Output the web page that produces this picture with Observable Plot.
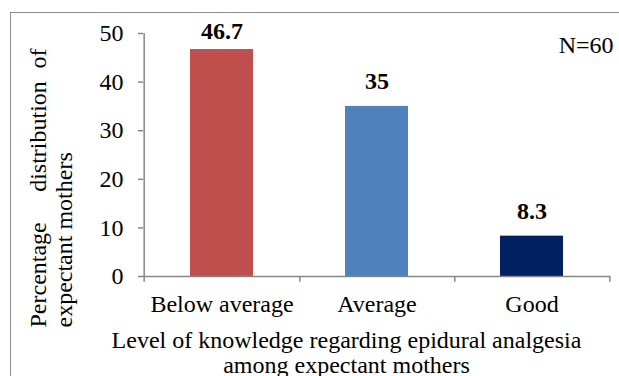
<!DOCTYPE html>
<html>
<head>
<meta charset="utf-8">
<script src="https://cdn.jsdelivr.net/npm/d3@7"></script>
<script src="https://cdn.jsdelivr.net/npm/@observablehq/plot@0.6"></script>
<style>
  html, body { margin: 0; padding: 0; background: #fff; overflow: hidden; }
  #wrap { position: relative; width: 619px; height: 376px; overflow: hidden; }
  #border { position: absolute; left: 10px; top: 12px; width: 700px; height: 500px; border: 1.5px solid #8c8c8c; box-sizing: border-box; }
  #chart { position: absolute; left: 0; top: 0; }
</style>
</head>
<body>
<div id="wrap"><div id="border"></div><div id="chart"></div></div>
<script>
const levels = ["Below average", "Average", "Good"];
const percentages = [46.7, 35, 8.3];
const valueLabels = ["46.7", "35", "8.3"];
const colors = ["#C0504D", "#4F81BD", "#002060"];
const yTicks = [0, 10, 20, 30, 40, 50];
const xTitle = "Level of knowledge regarding epidural analgesia\namong expectant mothers";
const yTitleWords = ["Percentage", "distribution", "of"];
const yTitleLine2 = "expectant mothers";
const note = "N=60";

const data = levels.map((level, i) => ({level, pct: percentages[i], label: valueLabels[i]}));

const W = 619, H = 376;
const mL = 143, mR = 9, mT = 33, mB = 100;
const step = (W - mL - mR) / levels.length;
const font = "'Liberation Serif', 'Times New Roman', serif";
const gray = "#878787";
const fs = 24;

const chart = Plot.plot({
  width: W,
  height: H,
  marginLeft: mL,
  marginRight: mR,
  marginTop: mT,
  marginBottom: mB,
  style: {fontFamily: font, fontSize: fs + "px", color: "#000", background: "transparent", overflow: "visible"},
  x: {domain: levels, paddingInner: 0.595, paddingOuter: 0.2975, axis: null},
  y: {domain: [0, 50], axis: null},
  color: {domain: levels, range: colors},
  marks: [
    Plot.barY(data, {x: "level", y: "pct", fill: "level"}),
    // axis lines and boundary ticks
    Plot.ruleY([0], {stroke: gray, strokeWidth: 1.5}),
    Plot.ruleX(levels.slice(0, 1), {x: d => d, dx: -step / 2, y1: -1.2, y2: 50, stroke: gray, strokeWidth: 1.5}),
    Plot.ruleX(levels, {x: d => d, dx: step / 2, y1: -1.2, y2: 0, stroke: gray, strokeWidth: 1.5}),
    Plot.axisY({ticks: yTicks, tickSize: 5, tickPadding: 15, stroke: gray, strokeWidth: 1.5, fontSize: fs, anchor: "left", label: null}),
    // category labels
    Plot.text(levels, {x: d => d, frameAnchor: "bottom", dy: 35, lineAnchor: "bottom", fontSize: fs}),
    // value labels
    Plot.text(data.filter(d => d.pct > 45), {x: "level", y: "pct", text: "label", dy: -11, lineAnchor: "bottom", fontWeight: "bold", fontSize: fs}),
    Plot.text(data.filter(d => d.pct <= 45), {x: "level", y: "pct", text: "label", dy: -17.5, lineAnchor: "bottom", fontWeight: "bold", fontSize: fs}),
    // x title
    Plot.text([xTitle], {frameAnchor: "bottom", dx: -30.5, dy: 96, lineAnchor: "bottom", lineHeight: 1.04, fontSize: fs}),
    // y title (justified first line)
    Plot.text([yTitleWords[0]], {frameAnchor: "left", dx: -98, dy: 172.5, rotate: -90, textAnchor: "start", lineAnchor: "bottom", fontSize: fs}),
    Plot.text([yTitleWords[1]], {frameAnchor: "left", dx: -98, dy: -18.5, rotate: -90, textAnchor: "middle", lineAnchor: "bottom", fontSize: fs}),
    Plot.text([yTitleWords[2]], {frameAnchor: "left", dx: -98, dy: -106.5, rotate: -90, textAnchor: "end", lineAnchor: "bottom", fontSize: fs}),
    Plot.text([yTitleLine2], {frameAnchor: "left", dx: -72, dy: 172.5, rotate: -90, textAnchor: "start", lineAnchor: "bottom", fontSize: fs}),
    // note
    Plot.text([note], {frameAnchor: "top-right", dx: 3, dy: 19, textAnchor: "end", lineAnchor: "bottom", fontSize: fs})
  ]
});
document.getElementById("chart").appendChild(chart);
</script>
</body>
</html>
